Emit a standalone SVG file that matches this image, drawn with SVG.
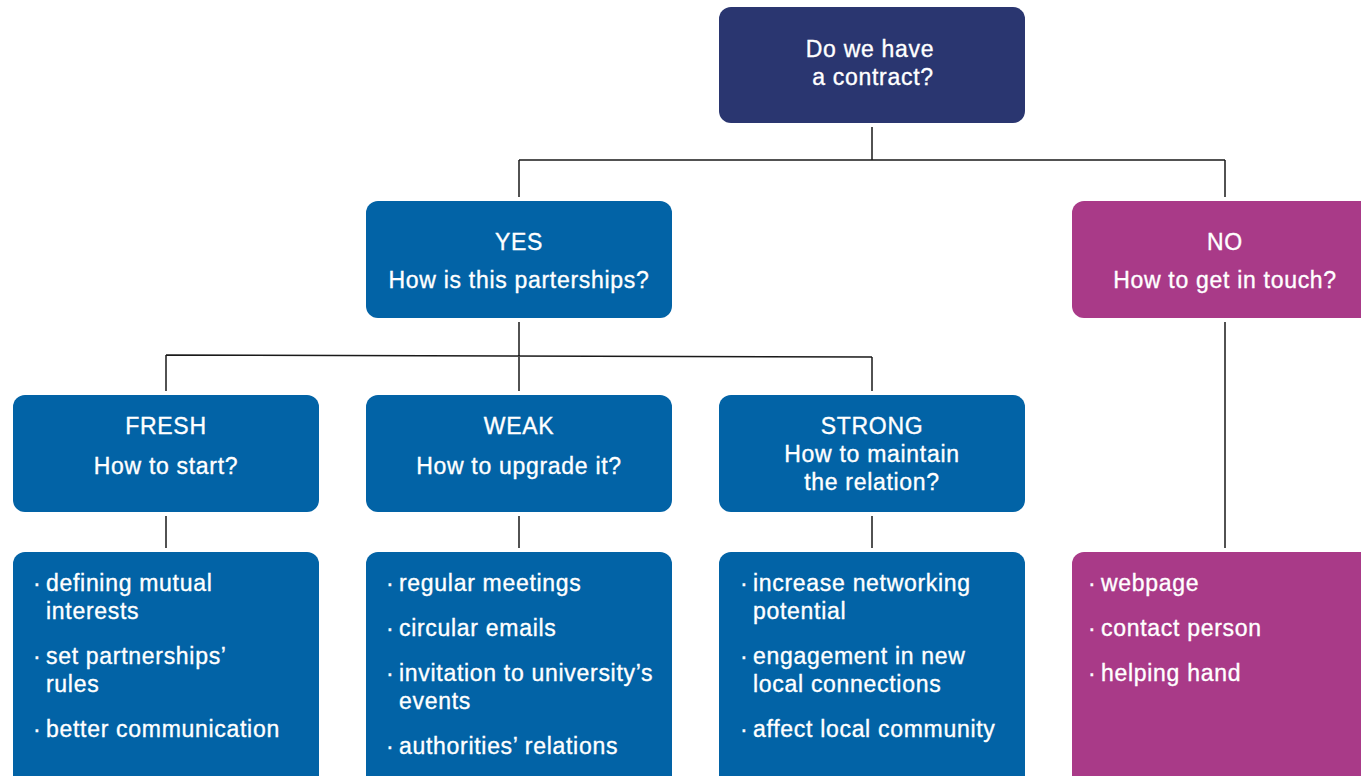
<svg xmlns="http://www.w3.org/2000/svg" width="1361" height="776" viewBox="0 0 1361 776">
<style>
.t{font-family:"Liberation Sans",Arial,sans-serif;font-size:23px;letter-spacing:0.7px;fill:#fff;stroke:#fff;stroke-width:0.35}
.c{text-anchor:middle}
.blue{fill:#0263a6}
.navy{fill:#2a3670}
.mag{fill:#a93a88}
.ln{stroke:#1a1a1a;stroke-width:1.5;fill:none}
</style>
<rect width="1361" height="776" fill="#fff"/>
<g id="connectors">
<path class="ln" d="M872 127V160M519 160H1225M519 160V197M1225 160V197"/>
<path class="ln" d="M519 322V391M166 355L872 357M166 355V391M872 357V391"/>
<path class="ln" d="M166 516V548M519 516V548M872 516V548M1225 322V548"/>
</g>
<g id="root"><rect class="navy" x="719" y="7" width="306" height="116" rx="12"/>
<text class="t c" x="870" y="57">Do we have</text><text class="t c" x="873" y="85">a contract?</text></g>
<g id="yes"><rect class="blue" x="366" y="201" width="306" height="117" rx="12"/>
<text class="t c" x="519" y="250">YES</text><text class="t c" x="519" y="288">How is this parterships?</text></g>
<g id="no"><rect class="mag" x="1072" y="201" width="300" height="117" rx="12"/>
<text class="t c" x="1225" y="250">NO</text><text class="t c" x="1225" y="288">How to get in touch?</text></g>
<g id="fresh"><rect class="blue" x="13" y="395" width="306" height="117" rx="12"/>
<text class="t c" x="166" y="434">FRESH</text><text class="t c" x="166" y="474">How to start?</text></g>
<g id="weak"><rect class="blue" x="366" y="395" width="306" height="117" rx="12"/>
<text class="t c" x="519" y="434">WEAK</text><text class="t c" x="519" y="474">How to upgrade it?</text></g>
<g id="strong"><rect class="blue" x="719" y="395" width="306" height="117" rx="12"/>
<text class="t c" x="872" y="434">STRONG</text><text class="t c" x="872" y="462">How to maintain</text><text class="t c" x="872" y="490">the relation?</text></g>
<g id="fresh-list"><rect class="blue" x="13" y="552" width="306" height="240" rx="12"/>
<text class="t" y="591"><tspan x="33">·</tspan><tspan x="46">defining mutual</tspan></text><text class="t" x="46" y="619">interests</text>
<text class="t" y="664"><tspan x="33">·</tspan><tspan x="46">set partnerships’</tspan></text><text class="t" x="46" y="692">rules</text>
<text class="t" y="737"><tspan x="33">·</tspan><tspan x="46">better communication</tspan></text></g>
<g id="weak-list"><rect class="blue" x="366" y="552" width="306" height="240" rx="12"/>
<text class="t" y="591"><tspan x="386">·</tspan><tspan x="399">regular meetings</tspan></text>
<text class="t" y="636"><tspan x="386">·</tspan><tspan x="399">circular emails</tspan></text>
<text class="t" y="681"><tspan x="386">·</tspan><tspan x="399">invitation to university’s</tspan></text><text class="t" x="399" y="709">events</text>
<text class="t" y="754"><tspan x="386">·</tspan><tspan x="399">authorities’ relations</tspan></text></g>
<g id="strong-list"><rect class="blue" x="719" y="552" width="306" height="240" rx="12"/>
<text class="t" y="591"><tspan x="740">·</tspan><tspan x="753">increase networking</tspan></text><text class="t" x="753" y="619">potential</text>
<text class="t" y="664"><tspan x="740">·</tspan><tspan x="753">engagement in new</tspan></text><text class="t" x="753" y="692">local connections</text>
<text class="t" y="737"><tspan x="740">·</tspan><tspan x="753">affect local community</tspan></text></g>
<g id="no-list"><rect class="mag" x="1072" y="552" width="300" height="240" rx="12"/>
<text class="t" y="591"><tspan x="1088">·</tspan><tspan x="1101">webpage</tspan></text>
<text class="t" y="636"><tspan x="1088">·</tspan><tspan x="1101">contact person</tspan></text>
<text class="t" y="681"><tspan x="1088">·</tspan><tspan x="1101">helping hand</tspan></text></g>
</svg>
